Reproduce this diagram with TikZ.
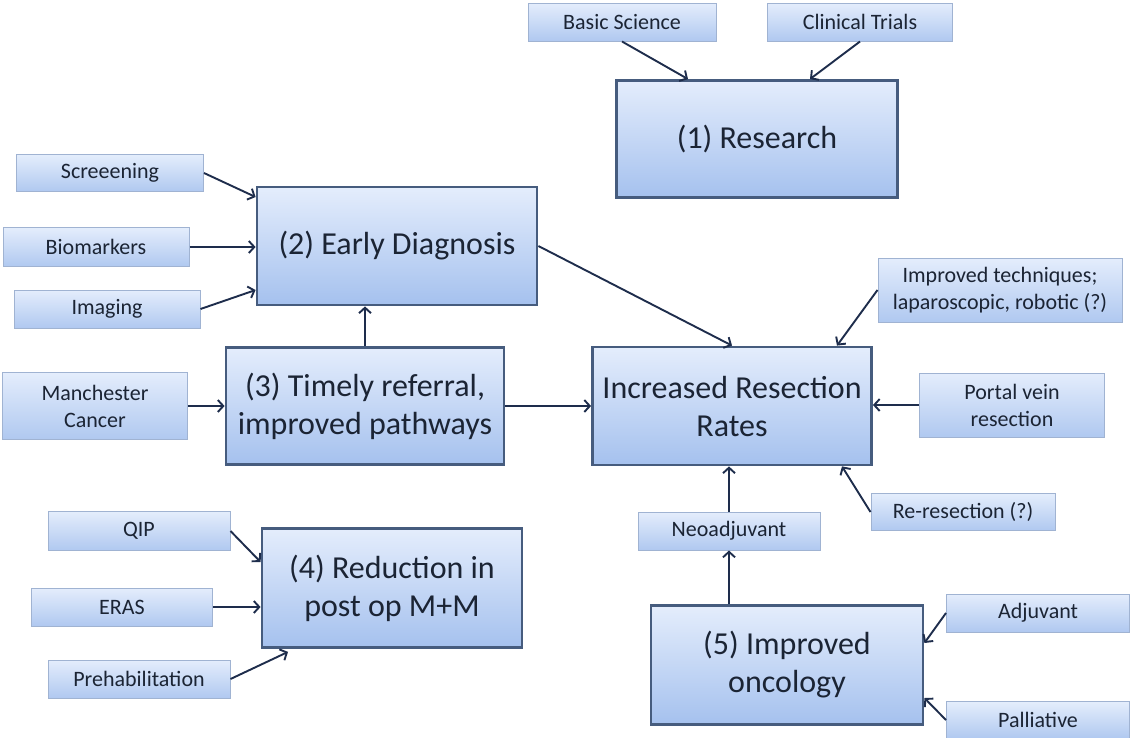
\documentclass[tikz,border=0pt]{standalone}
\usepackage{fontspec}
\setmainfont{Carlito}
\usepackage{xcolor}
\usepackage{tikz}
\usetikzlibrary{arrows.meta}
\definecolor{boxtop}{HTML}{E4EDFC}
\definecolor{boxbot}{HTML}{A5C1EE}
\definecolor{bigline}{HTML}{465C7E}
\definecolor{smallline}{HTML}{A0B3D2}
\definecolor{linkc}{HTML}{1E2D4C}
\definecolor{txtc}{HTML}{1B2434}

\begin{document}
\begin{tikzpicture}[x=1pt,y=-1pt,
  big/.style={draw=bigline,line width=2.8pt,top color=boxtop,bottom color=boxbot,
    text=txtc,align=center,inner sep=0pt,font=\fontsize{32}{38}\selectfont},
  small/.style={draw=smallline,line width=1pt,top color=boxtop,bottom color=boxbot!88!white,
    text=txtc,align=center,inner sep=0pt,font=\fontsize{22}{27}\selectfont},
  feed/.style={draw=linkc,line width=1.9pt,-{Straight Barb[length=5.5pt,width=12pt]}}]
  \fill[white] (0,0) rectangle (1138,737);
  \useasboundingbox (0,0) rectangle (1138,737);

  \node[big,minimum width=281pt,minimum height=117pt] (research) at (757,139) {(1) Research};
  \node[big,minimum width=280pt,minimum height=118pt] (early) at (397,246) {(2) Early Diagnosis};
  \node[big,minimum width=278pt,minimum height=117pt] (timely) at (365,406)
    {(3) Timely referral,\\improved pathways};
  \node[big,minimum width=279pt,minimum height=118pt] (rates) at (732,406)
    {Increased Resection\\Rates};
  \node[big,minimum width=260pt,minimum height=119pt] (reduce) at (392,588)
    {(4) Reduction in\\post op M+M};
  \node[big,minimum width=272pt,minimum height=119pt] (onco) at (787,665)
    {(5) Improved\\oncology};

  \node[small,minimum width=188pt,minimum height=38pt] (basic) at (622,22) {Basic Science};
  \node[small,minimum width=185pt,minimum height=38pt] (trials) at (860,22) {Clinical Trials};
  \node[small,minimum width=187pt,minimum height=37pt] (screen) at (110,173) {Screeening};
  \node[small,minimum width=186pt,minimum height=39pt] (biomark) at (96,247) {Biomarkers};
  \node[small,minimum width=186pt,minimum height=38pt] (imaging) at (107,309) {Imaging};
  \node[small,minimum width=185pt,minimum height=67pt] (manch) at (95,406) {Manchester\\Cancer};
  \node[small,minimum width=244pt,minimum height=64pt] (techn) at (1000,290)
    {Improved techniques;\\laparoscopic, robotic (?)};
  \node[small,minimum width=185pt,minimum height=64pt] (portal) at (1012,405) {Portal vein\\resection};
  \node[small,minimum width=184pt,minimum height=37pt] (reres) at (963,512) {Re-resection (?)};
  \node[small,minimum width=182pt,minimum height=38pt] (neoadj) at (729,531) {Neoadjuvant};
  \node[small,minimum width=183pt,minimum height=38pt] (adjuv) at (1038,613) {Adjuvant};
  \node[small,minimum width=183pt,minimum height=37pt] (palliat) at (1038,720) {Palliative};
  \node[small,minimum width=182pt,minimum height=39pt] (qip) at (139,531) {QIP};
  \node[small,minimum width=181pt,minimum height=38pt] (eras) at (122,607) {ERAS};
  \node[small,minimum width=182pt,minimum height=38pt] (prehab) at (139,679) {Prehabilitation};

  \draw[feed] (basic.south) -- ([xshift=-69pt]research.north);
  \draw[feed] (trials.south) -- ([xshift=53pt]research.north);
  \draw[feed] (screen.east) -- ([yshift=49pt]early.west);
  \draw[feed] (biomark.east) -- (biomark.east -| early.west);
  \draw[feed] (imaging.east) -- ([yshift=-44pt]early.west);
  \draw[feed] (timely.north) -- (timely.north |- early.south);
  \draw[feed] (manch.east) -- (timely.west);
  \draw[feed] (early.east) -- (rates.north);
  \draw[feed] (timely.east) -- (rates.west);
  \draw[feed] (techn.west) -- ([xshift=105pt]rates.north);
  \draw[feed] (portal.west) -- (portal.west -| rates.east);
  \draw[feed] (reres.west) -- ([xshift=110pt]rates.south);
  \draw[feed] (neoadj.north) -- (neoadj.north |- rates.south);
  \draw[feed] (neoadj.south |- onco.north) -- (neoadj.south);
  \draw[feed] (adjuv.west) -- ([yshift=22pt]onco.east);
  \draw[feed] (palliat.west) -- ([yshift=-33pt]onco.east);
  \draw[feed] (qip.east) -- ([yshift=26pt]reduce.west);
  \draw[feed] (eras.east) -- (eras.east -| reduce.west);
  \draw[feed] (prehab.east) -- ([xshift=-104pt,yshift=-3pt]reduce.south);
\end{tikzpicture}
\end{document}
